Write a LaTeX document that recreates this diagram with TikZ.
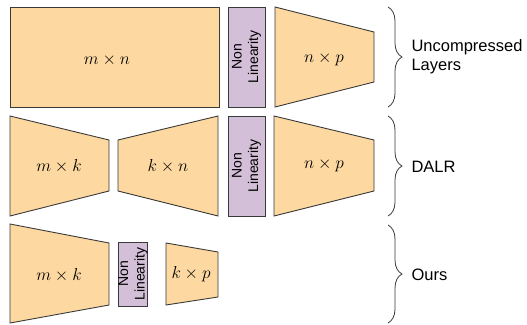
\documentclass[tikz,border=0pt]{standalone}
\usepackage{fontspec}
\setsansfont{Liberation Sans}
\usetikzlibrary{decorations.pathreplacing}

\definecolor{layerfill}{HTML}{FDD9A1}
\definecolor{nlfill}{HTML}{D4BFD8}
\definecolor{edge}{HTML}{3A3A3A}

\tikzset{
  layer/.style={draw=edge, line width=0.9pt, fill=layerfill},
  nlbox/.style={draw=edge, line width=0.9pt, fill=nlfill, inner sep=0pt, rotate=90,
    align=center, font=\sffamily\fontsize{14}{16.5}\selectfont},
  dim/.style={font=\fontsize{17.5}{20}\selectfont},
  grp/.style={decorate, decoration={brace, amplitude=14pt}, line width=0.8pt, draw=edge},
  grplabel/.style={anchor=west, align=left, font=\sffamily\fontsize{16.5}{19}\selectfont}
}

\begin{document}
\begin{tikzpicture}[x=1pt,y=-1pt]
  \useasboundingbox (0,0) rectangle (527,324);

  % uncompressed
  \node [layer, minimum width=209pt, minimum height=100pt] (mn1) at (114.5,57) {};
  \node [dim] (mnlab) at (107,60) {$m\times n$};
  \node [nlbox, minimum width=100pt, minimum height=37pt] (nl1) at (246.5,57) {Non\\Linearity};
  \draw [layer] (275,7) -- (374,32) -- (374,82) -- (275,107) -- cycle;
  \node [dim] (np1) at (324,59) {$n\times p$};

  % DALR
  \draw [layer] (10,116) -- (109,140) -- (109,191) -- (10,216) -- cycle;
  \node [dim] (mk2) at (59,166) {$m\times k$};
  \draw [layer] (118,140) -- (218,116) -- (218,216) -- (118,191) -- cycle;
  \node [dim] (kn2) at (168,166) {$k\times n$};
  \node [nlbox, minimum width=100pt, minimum height=37pt] (nl2) at (246.5,166) {Non\\Linearity};
  \draw [layer] (274,116) -- (374,140) -- (374,191) -- (274,216) -- cycle;
  \node [dim] (np2) at (324,165) {$n\times p$};

  % ours
  \draw [layer] (10,224) -- (109,243) -- (109,305) -- (10,323) -- cycle;
  \node [dim] (mk3) at (59,275) {$m\times k$};
  \node [nlbox, minimum width=64pt, minimum height=28pt] (nl3) at (133,274) {Non\\Linearity};
  \draw [layer] (166,243) -- (218,252) -- (218,297) -- (166,305) -- cycle;
  \node [dim] (kp3) at (191,274) {$k\times p$};

  % braces
  \coordinate (b1a) at (388,7);   \coordinate (b1b) at (388,107);
  \coordinate (b2a) at (388,116); \coordinate (b2b) at (388,216);
  \coordinate (b3a) at (388,225); \coordinate (b3b) at (388,323);
  \draw [grp] (b1a) -- (b1b);
  \draw [grp] (b2a) -- (b2b);
  \draw [grp] (b3a) -- (b3b);
  \node [grplabel] (uncomp) at (408,57) {Uncompressed\\Layers};
  \node [grplabel] (dalr) at (408,167) {DALR};
  \node [grplabel] (ours) at (408,275) {Ours};
\end{tikzpicture}
\end{document}
